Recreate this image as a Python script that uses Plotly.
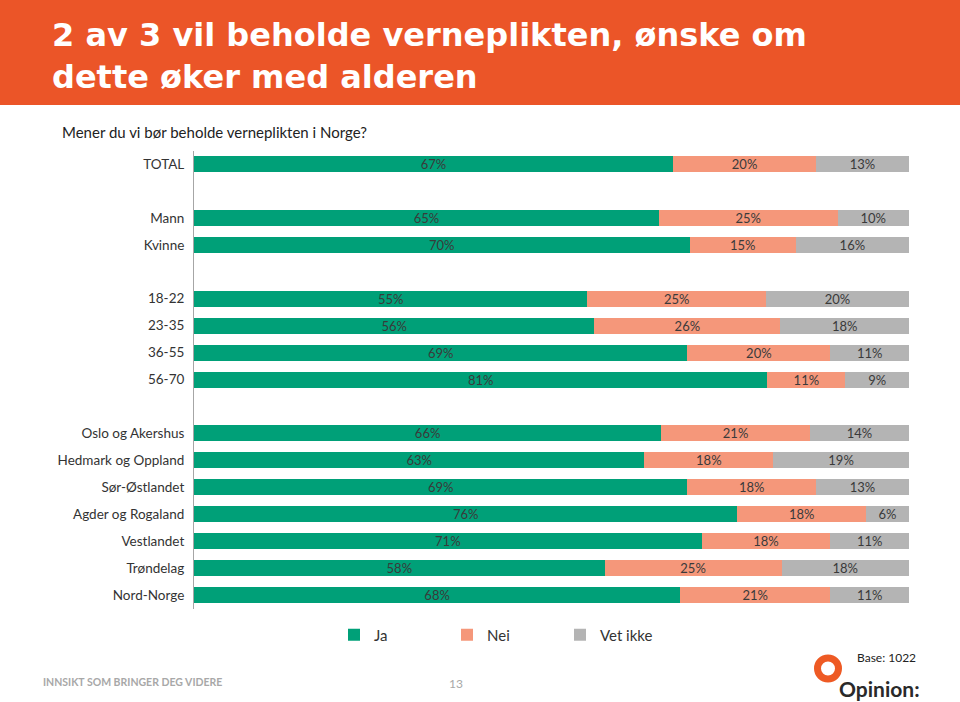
import plotly.graph_objects as go

W, H = 960, 702

# ---- data ----
categories = ["TOTAL", " ", "Mann", "Kvinne", "  ", "18-22", "23-35", "36-55", "56-70", "   ",
              "Oslo og Akershus", "Hedmark og Oppland", "Sør-Østlandet", "Agder og Rogaland",
              "Vestlandet", "Trøndelag", "Nord-Norge"]
ja      = [67, None, 65, 70, None, 55, 56, 69, 81, None, 66, 63, 69, 76, 71, 58, 68]
nei     = [20, None, 25, 15, None, 25, 26, 20, 11, None, 21, 18, 18, 18, 18, 25, 21]
vet_ikke = [13, None, 10, 16, None, 20, 18, 11, 9, None, 14, 19, 13, 6, 11, 18, 11]
series_names = ["Ja", "Nei", "Vet ikke"]
series_colors = ["#00A078", "#F5977A", "#B4B4B4"]

title = "2 av 3 vil beholde verneplikten, ønske om<br>dette øker med alderen"
subtitle = "Mener du vi bør beholde verneplikten i Norge?"

FONT = "Lato"
TITLE_FONT = "DejaVu Sans"

def px_x(p):
    return p / W

def px_y(p):
    return 1 - p / H

fig = go.Figure()
for name, vals, col in zip(series_names, [ja, nei, vet_ikke], series_colors):
    fig.add_trace(go.Bar(
        name=name,
        y=list(range(len(categories))),
        x=vals,
        orientation="h",
        marker=dict(color=col, line=dict(width=0)),
        text=[f"{v}%" if v is not None else "" for v in vals],
        textposition="inside",
        insidetextanchor="middle",
        constraintext="none",
        textfont=dict(family=FONT, size=13, color="#3A3A3A"),
        hoverinfo="skip",
    ))

fig.update_layout(
    width=W, height=H, autosize=False,
    margin=dict(l=0, r=0, t=0, b=0),
    paper_bgcolor="white", plot_bgcolor="white",
    barmode="stack", barnorm="percent", bargap=0.406,
    font=dict(family=FONT, color="#333333"),
    xaxis=dict(domain=[px_x(194), px_x(909)], range=[0, 100], visible=False, fixedrange=True),
    yaxis=dict(domain=[px_y(608.5), px_y(150.5)], range=[16.5, -0.5],
               tickmode="array", tickvals=list(range(len(categories))), ticktext=categories,
               showline=True, linecolor="#A6A6A6", linewidth=1, showgrid=False, zeroline=False,
               ticks="", ticklabelstandoff=6,
               tickfont=dict(family=FONT, size=13.5, color="#333333"), fixedrange=True),
    showlegend=True,
    legend=dict(orientation="h", traceorder="normal", x=px_x(334), xanchor="left",
                y=px_y(635), yanchor="middle",
                font=dict(family=FONT, size=15, color="#333333"),
                entrywidth=68, entrywidthmode="pixels", itemclick=False, itemdoubleclick=False,
                bgcolor="rgba(0,0,0,0)"),
)

# header band
fig.add_shape(type="rect", xref="paper", yref="paper", x0=0, x1=1, y0=px_y(105), y1=1,
              fillcolor="#EB5528", line=dict(width=0), layer="below")
fig.add_annotation(text="<b>" + title.replace("<br>", "</b><br><b>") + "</b>",
                   xref="paper", yref="paper", x=px_x(50), y=px_y(56),
                   xanchor="left", yanchor="middle", align="left", showarrow=False,
                   font=dict(family=TITLE_FONT, size=32, color="white"))
fig.add_annotation(text=subtitle, xref="paper", yref="paper", x=px_x(60), y=px_y(132),
                   xanchor="left", yanchor="middle", showarrow=False,
                   font=dict(family=FONT, size=15, color="#222222"))

# footer
fig.add_annotation(text="<b>INNSIKT SOM BRINGER DEG VIDERE</b>", xref="paper", yref="paper",
                   x=px_x(41), y=px_y(682), xanchor="left", yanchor="middle", showarrow=False,
                   font=dict(family=FONT, size=10.5, color="#A8A8A8"))
fig.add_annotation(text="13", xref="paper", yref="paper", x=px_x(456), y=px_y(683),
                   xanchor="center", yanchor="middle", showarrow=False,
                   font=dict(family=FONT, size=12, color="#A8A8A8"))
fig.add_annotation(text="Base: 1022", xref="paper", yref="paper", x=px_x(918), y=px_y(657),
                   xanchor="right", yanchor="middle", showarrow=False,
                   font=dict(family=FONT, size=12, color="#222222"))
# logo
fig.add_shape(type="circle", xref="paper", yref="paper",
              x0=px_x(817.5), x1=px_x(838.5), y0=px_y(679), y1=px_y(658),
              line=dict(color="#EE5A24", width=7), fillcolor="rgba(0,0,0,0)")
fig.add_annotation(text="<b>Opinion:</b>", xref="paper", yref="paper", x=px_x(922), y=px_y(688),
                   xanchor="right", yanchor="middle", showarrow=False,
                   font=dict(family=FONT, size=21, color="#2A2A2A"))

fig.write_html("out.html", config={"displayModeBar": False})
